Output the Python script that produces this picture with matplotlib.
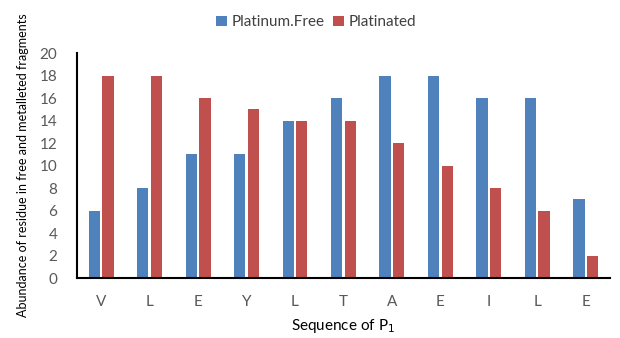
import matplotlib
matplotlib.use("Agg")
import matplotlib.pyplot as plt
import numpy as np

categories = ["V", "L", "E", "Y", "L", "T", "A", "E", "I", "L", "E"]
platinum_free = [6, 8, 11, 11, 14, 16, 18, 18, 16, 16, 7]
platinated = [18, 18, 16, 15, 14, 14, 12, 10, 8, 6, 2]

plt.rcParams['font.family'] = ['Lato', 'DejaVu Sans']

fig = plt.figure(figsize=(6.2, 3.38), dpi=100)
ax = fig.add_axes([0.124, 0.1775, 0.86, 0.6655])

x = np.arange(len(categories))
w = 0.235
ax.bar(x - 0.14, platinum_free, width=w, color="#4F81BD", label="Platinum.Free")
ax.bar(x + 0.14, platinated, width=w, color="#C0504D", label="Platinated")

ax.set_xlim(-0.5, len(categories) - 0.5)
ax.set_ylim(0, 20)
ax.set_yticks(range(0, 21, 2))
ax.set_xticks(x)
ax.set_xticklabels(categories)
ax.tick_params(axis='both', length=0, labelsize=11, colors="#595959")
ax.tick_params(axis='x', pad=12)
ax.tick_params(axis='y', pad=14)
for s in ["top", "right"]:
    ax.spines[s].set_visible(False)
ax.spines["left"].set_linewidth(1.5)
ax.spines["bottom"].set_linewidth(1.5)

ax.set_xlabel("Sequence of P$_1$", fontsize=11, labelpad=6)
ax.set_ylabel("Abundance of residue in free and metalleted fragments", fontsize=9, labelpad=8)

fig.legend(loc="upper center", bbox_to_anchor=(0.51, 0.995), ncol=2, frameon=False,
           fontsize=11, handlelength=0.7, handleheight=0.7, handletextpad=0.3,
           columnspacing=0.6, labelcolor="#404040")

fig.savefig("out.png", dpi=100)
